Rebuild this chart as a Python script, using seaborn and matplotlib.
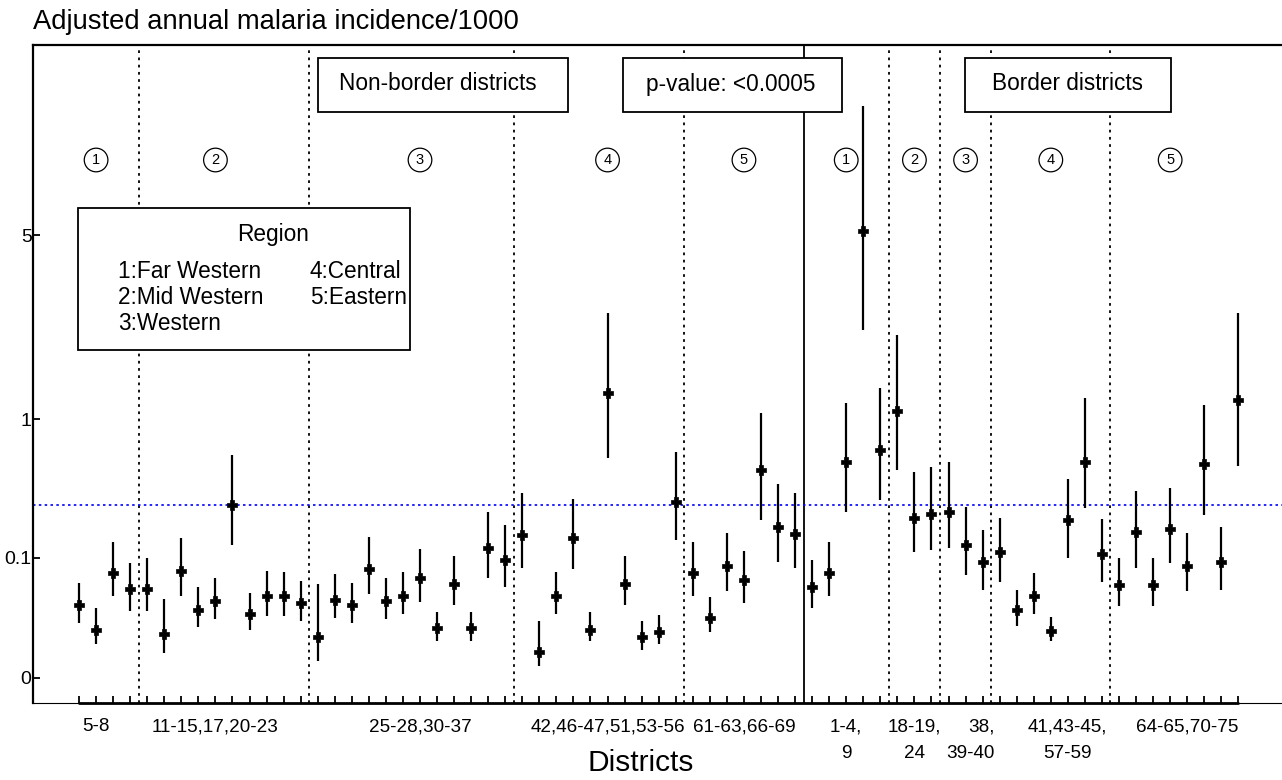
import numpy as np
import pandas as pd
import matplotlib.pyplot as plt
import seaborn as sns
from matplotlib.patches import Rectangle

# adjusted incidence per 1000, with 95% CI, one entry per district (plot order)
est = [0.0224, 0.0064, 0.0666, 0.0406, 0.0406, 0.0049, 0.0705, 0.0181, 0.0263, 0.298,
       0.0151, 0.0317, 0.0317, 0.0243, 0.0040, 0.0273, 0.0224, 0.0745, 0.0263, 0.0317,
       0.0576, 0.0072, 0.0478, 0.0072, 0.1265, 0.0946, 0.168, 0.0010, 0.0317, 0.158,
       0.0064, 1.33, 0.0478, 0.0040, 0.0056, 0.314, 0.0666, 0.0124, 0.0809, 0.0542,
       0.518, 0.198, 0.172, 0.0434, 0.0666, 0.580, 5.14, 0.682, 1.10, 0.236,
       0.254, 0.263, 0.135, 0.0898, 0.115, 0.0181, 0.0317, 0.0060, 0.227, 0.580,
       0.110, 0.0463, 0.179, 0.0463, 0.190, 0.0809, 0.564, 0.0898, 1.24]
lo = [0.0096, 0.0023, 0.0317, 0.0173, 0.0173, 0.0009, 0.0317, 0.0076, 0.0118, 0.135,
      0.0064, 0.0137, 0.0137, 0.0107, 0.0003, 0.0124, 0.0096, 0.0341, 0.0118, 0.0151,
      0.0253, 0.0029, 0.0224, 0.0029, 0.0576, 0.0434, 0.0766, 0.0001, 0.0151, 0.0745,
      0.0029, 0.613, 0.0224, 0.0013, 0.0023, 0.151, 0.0317, 0.0056, 0.0379, 0.0243,
      0.227, 0.0898, 0.0766, 0.0198, 0.0317, 0.263, 2.43, 0.325, 0.518, 0.115,
      0.121, 0.127, 0.0629, 0.0392, 0.0509, 0.0081, 0.0151, 0.0029, 0.0995, 0.283,
      0.0509, 0.0215, 0.0766, 0.0215, 0.0875, 0.0379, 0.249, 0.0392, 0.548]
hi = [0.0493, 0.0198, 0.145, 0.0875, 0.0995, 0.0284, 0.158, 0.0434, 0.0576, 0.638,
      0.0353, 0.0705, 0.0686, 0.0525, 0.0478, 0.0647, 0.0493, 0.161, 0.0576, 0.0686,
      0.124, 0.0166, 0.1045, 0.0166, 0.263, 0.206, 0.365, 0.0107, 0.0686, 0.330,
      0.0166, 2.80, 0.1045, 0.0107, 0.0144, 0.664, 0.145, 0.0306, 0.176, 0.118,
      1.07, 0.420, 0.365, 0.0946, 0.145, 1.20, 10.8, 1.40, 2.32, 0.503,
      0.541, 0.580, 0.288, 0.187, 0.236, 0.0392, 0.0666, 0.0131, 0.454, 1.26,
      0.231, 0.0995, 0.376, 0.0995, 0.395, 0.176, 1.17, 0.198, 2.80]

group_labels = ['5-8', '11-15,17,20-23', '25-28,30-37', '42,46-47,51,53-56', '61-63,66-69',
                '1-4,\n9', '18-19,\n24', '38,\n39-40', '41,43-45,\n57-59', '64-65,70-75']
group_label_pos = [2, 9, 21, 32, 40, 46, 50, 53.3, 59, 66]
region_no = [1, 2, 3, 4, 5, 1, 2, 3, 4, 5]
region_pos = [2, 9, 21, 32, 40, 46, 50, 53, 58, 65]
separators = [4.5, 14.5, 26.5, 36.5, 48.5, 51.5, 54.5, 61.5]
border_split = 43.5
national_rate = 0.3

df = pd.DataFrame({'pos': np.arange(1, len(est) + 1), 'est': est, 'lo': lo, 'hi': hi})

sns.set_theme(style='white')
plt.rcParams['font.family'] = ['Liberation Sans', 'DejaVu Sans']

W, H = 1282, 780
AX_L, AX_R, AX_T, AX_B = 33, 1282, 45, 703
fig = plt.figure(figsize=(W / 100, H / 100), dpi=100)
ax = fig.add_axes([AX_L / W, 1 - AX_B / H, (AX_R - AX_L) / W, (AX_B - AX_T) / H])


def px(x, y):
    # pixel position -> axes fraction
    return (x - AX_L) / (AX_R - AX_L), (AX_B - y) / (AX_B - AX_T)


ax.set_yscale('function', functions=(np.cbrt, lambda v: np.power(v, 3)))

ax.vlines(df['pos'], df['lo'], df['hi'], color='black', lw=1.6, zorder=3)
sns.scatterplot(data=df, x='pos', y='est', marker='P', s=42, color='black',
                edgecolor='black', linewidth=0.5, ax=ax, zorder=4, legend=False)

for s in separators:
    ax.axvline(s, color='black', lw=1.3, ls=(0, (1.5, 2.5)), zorder=1)
ax.axvline(border_split, color='black', lw=1.3, zorder=1)
ax.axhline(national_rate, color='blue', lw=1.2, ls=(0, (1.5, 2)), zorder=1)

ax.set_xlim(-1.70, 71.56)
ax.set_ylim(-0.0009, 14.6)
ax.set_yticks([0, 0.1, 1, 5], ['0', '0.1', '1', '5'])
ax.set_xticks(df['pos'], [''] * len(df))
ax.tick_params(axis='x', which='major', bottom=True, direction='in', length=5, width=1.3,
               color='black')
ax.tick_params(axis='y', left=True, direction='in', length=5, width=1.3, pad=1, labelsize=14,
               color='black', labelcolor='black')
ax.set_xlabel('')
ax.set_ylabel('')

lab_y = px(0, 718)[1]
for s, xp in zip(group_labels, group_label_pos):
    ax.text(xp, lab_y, s, transform=ax.get_xaxis_transform(), ha='center', va='top',
            fontsize=13.6, color='black', linespacing=1.74,
            multialignment='right' if s.startswith('38') else 'center')

for side in ['left', 'top']:
    ax.spines[side].set_color('black')
    ax.spines[side].set_linewidth(1.6)
ax.spines['right'].set_visible(False)
ax.spines['bottom'].set_color('black')
ax.spines['bottom'].set_linewidth(0.8)
ax.plot([1, 69], [0, 0], color='black', lw=2, transform=ax.get_xaxis_transform(),
        clip_on=False, zorder=5)

fig.text(AX_L / W, 1 - 22 / H, 'Adjusted annual malaria incidence/1000',
         fontsize=19.7, ha='left', va='center', color='black')
fig.text(641 / W, 1 - 771 / H, 'Districts', fontsize=21.5, ha='center', va='baseline',
         color='black')


def box(x0, y0, x1, y1):
    ax.add_patch(Rectangle(px(x0, y1), (x1 - x0) / (AX_R - AX_L), (y1 - y0) / (AX_B - AX_T),
                           transform=ax.transAxes, fc='white', ec='black', lw=1.3,
                           zorder=6, clip_on=False))


def label(x, y, s, **kw):
    ax.text(*px(x, y), s, transform=ax.transAxes, fontsize=16.3, color='black',
            va='center', zorder=7, **kw)


box(318, 58, 568, 112)
label(438, 84, 'Non-border districts', ha='center')
box(623, 58, 842, 112)
label(731, 84, 'p-value: <0.0005', ha='center')
box(965, 58, 1171, 112)
label(1067, 84, 'Border districts', ha='center')

box(78, 208, 410, 350)
label(273, 234, 'Region', ha='center')
label(118, 271, '1:Far Western', ha='left')
label(118, 297, '2:Mid Western', ha='left')
label(118, 323, '3:Western', ha='left')
label(310, 271, '4:Central', ha='left')
label(310, 297, '5:Eastern', ha='left')

circle_y = px(0, 160)[1]
for n, xp in zip(region_no, region_pos):
    ax.text(xp, circle_y, str(n), transform=ax.get_xaxis_transform(), fontsize=10.5,
            ha='center', va='center', color='black', zorder=7,
            bbox=dict(boxstyle='circle,pad=0.33', fc='white', ec='black', lw=0.9))

fig.savefig('out.png', dpi=100)
